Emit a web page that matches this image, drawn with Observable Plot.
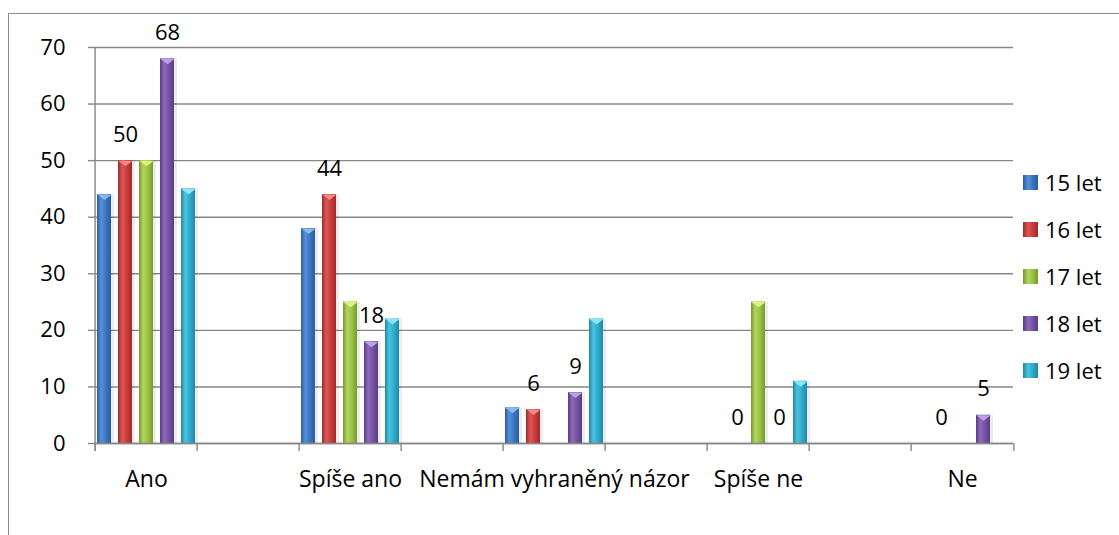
<!DOCTYPE html>
<html><head><meta charset="utf-8">
<script src="https://cdn.jsdelivr.net/npm/d3@7"></script>
<script src="https://cdn.jsdelivr.net/npm/@observablehq/plot@0.6"></script>
<style>
body{margin:0;background:#fff;overflow:hidden;font-family:"Open Sans",sans-serif;}
#wrap{position:relative;width:1119px;height:535px;overflow:hidden;background:#fff;}
#border{position:absolute;left:8px;top:13px;width:1300px;height:700px;border-left:1.5px solid #8c8c8c;border-top:1.5px solid #8c8c8c;}
#chart{position:absolute;left:0;top:0;}
#legend{position:absolute;left:1023px;top:0;}
.item{position:absolute;left:0;display:flex;align-items:center;white-space:nowrap;font-size:22px;color:#000;height:30px;}
.sw{width:15px;height:15px;margin-right:7px;}
</style></head>
<body>
<div id="wrap"><div id="border"></div><div id="chart"></div><div id="legend"></div></div>
<script>
// ---- data ----
const categories = ["Ano", "Spíše ano", "Nemám vyhraněný názor", "Spíše ne", "Ne"];
const series = ["15 let", "16 let", "17 let", "18 let", "19 let"];
const v15 = [44, 38, 6.3, null, null];
const v16 = [50, 44, 6, 0, 0];
const v17 = [50, 25, null, 25, null];
const v18 = [68, 18, 9, 0, 5];
const v19 = [45, 22, 22, 11, null];
const labelledSeries = ["16 let", "18 let"];
const yTicks = [0, 10, 20, 30, 40, 50, 60, 70];

// ---- styles ----
const dark  = ["#2c5c9e", "#9e2a2a", "#76992f", "#5a3d82", "#1e88a5"];
const mid   = ["#3b74c0", "#c73a3a", "#99c142", "#7452a2", "#2eaacb"];
const light = ["#5590da", "#dc5656", "#b0d65c", "#8d6ab9", "#4cc3de"];
const cap   = ["#8ab8f0", "#f08a8a", "#dcf27c", "#bea2e6", "#8ae6f8"];

// table built from the arrays
const valuesBySeries = [v15, v16, v17, v18, v19];
const data = [];
series.forEach((s, si) => categories.forEach((c, ci) => {
  const v = valuesBySeries[si][ci];
  if (v != null) data.push({category: c, series: s, value: v, si});
}));
// empty category slots between the named ones (as in the original sheet)
const slots = [];
categories.forEach((c, i) => { if (i) slots.push("_" + i); slots.push(c); });

const W = 1119, H = 535, mL = 91, mR = 103, mT = 47, mB = 92;
const fw = (W - mL - mR) / slots.length;
const gradUrls = series.map((s, i) => `url(#g${i})`);
const fs = 22;
const axisStroke = {stroke: "#878787", strokeWidth: 1.4};

const capSymbol = {draw(ctx) { ctx.moveTo(-7.2, 0); ctx.lineTo(7.2, 0); ctx.lineTo(0, 5.5); ctx.closePath(); }};

const plot = Plot.plot({
  width: W, height: H,
  marginLeft: mL, marginRight: mR, marginTop: mT, marginBottom: mB,
  style: {fontFamily: "'Open Sans', sans-serif", fontSize: fs + "px", background: "transparent", overflow: "visible"},
  fx: {domain: slots, padding: 0},
  x: {domain: series, paddingInner: 0.34, paddingOuter: 0, align: 0.5, axis: null},
  y: {domain: [0, 70]},
  color: {domain: series, range: gradUrls},
  marks: [
    // category tick marks below the baseline (one per slot, left edge) – also keeps empty slots alive
    Plot.ruleX(slots, {fx: d => d, x: null, y1: 0, y2: 0, insetBottom: -8, dx: -fw / 2, ...axisStroke}),
    Plot.ruleX([categories[categories.length - 1]], {fx: d => d, x: null, y1: 0, y2: 0, insetBottom: -8, dx: fw / 2, ...axisStroke}),
    Plot.gridY(yTicks, {strokeOpacity: 1, ...axisStroke}),
    Plot.axisY(yTicks, {tickSize: 7, tickPadding: 23, fill: "#000", fontSize: fs, label: null, ...axisStroke}),
    Plot.axisFx({anchor: "bottom", tickSize: 0, tickPadding: 27, fontSize: 23, fill: "#000", label: null,
      tickFormat: d => d.startsWith("_") ? "" : d}),
    Plot.barY(data, {fx: "category", x: "series", y: "value", fill: "#000", fillOpacity: 0.07, dx: 3}),
    Plot.barY(data, {fx: "category", x: "series", y: "value", fill: "series"}),
    ...series.map((s, i) => Plot.dot(data.filter(d => d.series === s && d.value > 0),
      {fx: "category", x: "series", y: "value", symbol: capSymbol, r: 5, fill: cap[i], stroke: null})),
    Plot.ruleY([0], axisStroke),
    Plot.ruleX([categories[0]], {fx: d => d, x: null, y1: 70, y2: 0, insetBottom: -8, dx: -fw / 2, ...axisStroke}),
    Plot.text(data.filter(d => labelledSeries.includes(d.series)),
      {fx: "category", x: "series", y: "value", text: d => String(d.value), dy: -26, fontSize: fs, fill: "#000"})
  ]
});

// gradient definitions for the bar fills
const defs = d3.select(plot).insert("defs", ":first-child");
series.forEach((s, i) => {
  const g = defs.append("linearGradient").attr("id", `g${i}`).attr("x1", 0).attr("x2", 1).attr("y1", 0).attr("y2", 0);
  [[0, dark[i]], [0.3, light[i]], [0.65, mid[i]], [1, dark[i]]].forEach(([o, c]) =>
    g.append("stop").attr("offset", o).attr("stop-color", c));
});
document.getElementById("chart").appendChild(plot);

// legend
const legend = d3.select("#legend");
series.forEach((s, i) => {
  const it = legend.append("div").attr("class", "item").style("top", (167 + i * 47) + "px");
  it.append("div").attr("class", "sw")
    .style("background", `linear-gradient(to right, ${dark[i]}, ${light[i]} 35%, ${mid[i]} 65%, ${dark[i]})`);
  it.append("span").text(s);
});
</script>
</body></html>
